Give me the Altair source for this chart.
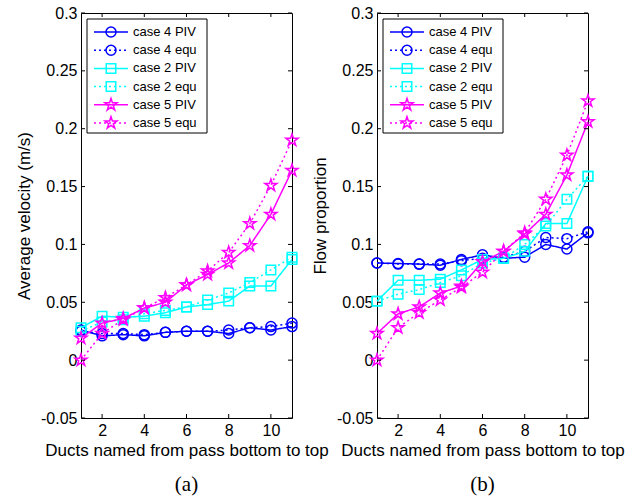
import altair as alt
import pandas as pd

# ---------------- data ----------------
ducts = [1, 2, 3, 4, 5, 6, 7, 8, 9, 10, 11]
series_names = ["case 4 PIV", "case 4 equ", "case 2 PIV", "case 2 equ", "case 5 PIV", "case 5 equ"]

# (a) average velocity (m/s)
vel_c4_piv = [0.026, 0.021, 0.022, 0.021, 0.024, 0.025, 0.025, 0.023, 0.028, 0.026, 0.029]
vel_c4_equ = [0.025, 0.023, 0.023, 0.022, 0.024, 0.025, 0.025, 0.026, 0.028, 0.029, 0.032]
vel_c2_piv = [0.028, 0.038, 0.037, 0.038, 0.041, 0.046, 0.048, 0.051, 0.064, 0.064, 0.087]
vel_c2_equ = [0.025, 0.033, 0.035, 0.040, 0.043, 0.046, 0.052, 0.058, 0.067, 0.078, 0.089]
vel_c5_piv = [0.019, 0.032, 0.036, 0.045, 0.050, 0.065, 0.074, 0.084, 0.099, 0.126, 0.164]
vel_c5_equ = [0.000, 0.023, 0.035, 0.045, 0.054, 0.065, 0.077, 0.093, 0.118, 0.151, 0.190]

# (b) flow proportion
flow_c4_piv = [0.084, 0.0835, 0.083, 0.082, 0.087, 0.091, 0.088, 0.089, 0.100, 0.096, 0.110]
flow_c4_equ = [0.084, 0.083, 0.083, 0.083, 0.086, 0.088, 0.089, 0.094, 0.106, 0.105, 0.111]
flow_c2_piv = [0.051, 0.069, 0.069, 0.070, 0.078, 0.087, 0.088, 0.094, 0.118, 0.118, 0.159]
flow_c2_equ = [0.051, 0.057, 0.061, 0.067, 0.073, 0.084, 0.088, 0.100, 0.116, 0.139, 0.159]
flow_c5_piv = [0.023, 0.040, 0.046, 0.058, 0.064, 0.085, 0.094, 0.109, 0.126, 0.160, 0.206]
flow_c5_equ = [0.000, 0.028, 0.041, 0.052, 0.063, 0.076, 0.094, 0.110, 0.139, 0.177, 0.224]

x_ticks = [2, 4, 6, 8, 10]
y_ticks = [-0.05, 0, 0.05, 0.1, 0.15, 0.2, 0.25, 0.3]
x_title = "Ducts named from pass bottom to top"

# ---------------- styles ----------------
# five-pointed star as a custom symbol path (Vega has no built-in "star")
STAR = ("M0,-1L0.2245,-0.309L0.9511,-0.309L0.3633,0.118L0.5878,0.809L0,0.382"
        "L-0.5878,0.809L-0.3633,0.118L-0.9511,-0.309L-0.2245,-0.309Z")
colors = ["#0000ff", "#0000ff", "#00ffff", "#00ffff", "#ff00ff", "#ff00ff"]
shapes = ["circle", "circle", "square", "square", STAR, STAR]
dashes = [[1, 0], [2, 3], [1, 0], [2, 3], [1, 0], [2, 3]]
sizes = [100, 100, 90, 90, 160, 160]

FONT = "Liberation Sans"
TICK = 4
W, H = 211, 405

label_expr = "datum.value < 0 ? '-' + format(-datum.value, '~g') : format(datum.value, '~g')"


def make_panel(values, y_title, tag):
    xs = alt.Scale(domain=[1, 11], nice=False, zero=False)
    ys = alt.Scale(domain=[-0.05, 0.3], nice=False, zero=False)
    x_enc = alt.X("duct:Q", scale=xs, axis=alt.Axis(
        values=x_ticks, ticks=False, domain=False, grid=False, labelPadding=4,
        labelFlush=False, title=x_title, titlePadding=4))
    y_enc = alt.Y("val:Q", scale=ys, axis=alt.Axis(
        values=y_ticks, ticks=False, domain=False, grid=False, labelPadding=4,
        labelFlush=False, labelExpr=label_expr, title=y_title, titlePadding=7))

    layers = []
    for i, (name, vals) in enumerate(zip(series_names, values)):
        df = pd.DataFrame({"duct": ducts, "val": vals, "series": name})
        layers.append(alt.Chart(df).mark_line(strokeWidth=1.5, color=colors[i], strokeDash=dashes[i]).encode(
            x=x_enc, y=y_enc))
        layers.append(alt.Chart(df).mark_point(filled=False, strokeWidth=1.5, opacity=1, color=colors[i],
                                               shape=shapes[i], size=sizes[i]).encode(x=x_enc, y=y_enc))

    # inward ticks on all four sides of the box
    xt = pd.DataFrame({"duct": x_ticks})
    yt = pd.DataFrame({"val": y_ticks})
    layers.append(alt.Chart(xt).mark_rule(color="black", strokeWidth=1).encode(
        x=x_enc, y=alt.value(H - TICK), y2=alt.value(H)))
    layers.append(alt.Chart(xt).mark_rule(color="black", strokeWidth=1).encode(
        x=x_enc, y=alt.value(0), y2=alt.value(TICK)))
    layers.append(alt.Chart(yt).mark_rule(color="black", strokeWidth=1).encode(
        y=y_enc, x=alt.value(0), x2=alt.value(TICK)))
    layers.append(alt.Chart(yt).mark_rule(color="black", strokeWidth=1).encode(
        y=y_enc, x=alt.value(W - TICK), x2=alt.value(W)))

    # legend box drawn inside the plot
    layers.append(alt.Chart(pd.DataFrame({"k": [0]})).mark_rect(
        fill="white", stroke="black", strokeWidth=1).encode(
        x=alt.value(6), x2=alt.value(126), y=alt.value(6), y2=alt.value(120)))
    for i, name in enumerate(series_names):
        ypx = 19 + i * 18.2
        one = pd.DataFrame({"series": [name]})
        layers.append(alt.Chart(one).mark_rule(strokeWidth=1.5, color=colors[i], strokeDash=dashes[i]).encode(
            x=alt.value(13), x2=alt.value(47), y=alt.value(ypx)))
        layers.append(alt.Chart(one).mark_point(filled=False, strokeWidth=1.5, opacity=1, color=colors[i],
                                                shape=shapes[i], size=sizes[i]).encode(
            x=alt.value(30), y=alt.value(ypx)))
        layers.append(alt.Chart(one).mark_text(align="left", baseline="middle", font=FONT,
                                               fontSize=13, color="black").encode(
            x=alt.value(52), y=alt.value(ypx), text="series:N"))

    # sub-figure tag under the axis title
    layers.append(alt.Chart(pd.DataFrame({"tag": [tag]})).mark_text(
        align="center", baseline="middle", font="Liberation Serif", fontSize=21, color="black").encode(
        x=alt.value(W / 2), y=alt.value(H + 67), text="tag:N"))

    return alt.layer(*layers).properties(width=W, height=H)


panel_a = make_panel([vel_c4_piv, vel_c4_equ, vel_c2_piv, vel_c2_equ, vel_c5_piv, vel_c5_equ],
                     "Average velocity (m/s)", "(a)")
panel_b = make_panel([flow_c4_piv, flow_c4_equ, flow_c2_piv, flow_c2_equ, flow_c5_piv, flow_c5_equ],
                     "Flow proportion", "(b)")

chart = alt.hconcat(panel_a, panel_b, spacing=85, bounds="flush").properties(
    padding={"left": 15, "top": 4, "right": 5, "bottom": 5},
    background="white",
).configure_view(stroke="black", strokeWidth=1).configure_axis(
    labelFont=FONT, labelFontSize=16, labelColor="black",
    titleFont=FONT, titleFontSize=17, titleFontWeight="normal", titleColor="black",
    labelOverlap=False,
)

chart.save("out.html", embed_options={"renderer": "svg", "actions": False})
